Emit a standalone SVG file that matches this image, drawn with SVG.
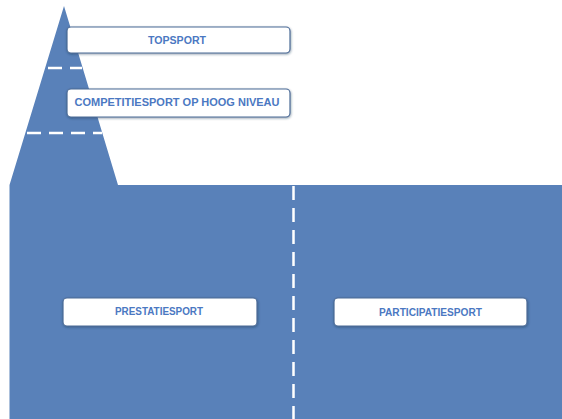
<svg xmlns="http://www.w3.org/2000/svg" width="562" height="419" viewBox="0 0 562 419">
<defs>
<filter id="sh" x="-10%" y="-30%" width="120%" height="170%">
<feDropShadow dx="0.5" dy="1" stdDeviation="0.8" flood-color="#1f3350" flood-opacity="0.45"/>
</filter>
</defs>
<style>
.box{fill:#ffffff;stroke:#4a6a96;stroke-width:1.2;filter:url(#sh)}
.lbl{font-family:"Liberation Sans",Arial,sans-serif;font-weight:bold;font-size:10.5px;fill:#4b78c2;text-anchor:middle;dominant-baseline:central}
.dash{stroke:#ffffff;stroke-width:2.5;stroke-dasharray:14 8;fill:none}
</style>
<g id="shape">
<path d="M64,6 L118,185 L562,185 L562,419 L9.5,419 L9.5,185 Z" fill="#5981b9"/>
</g>
<g id="connectors">
<line class="dash" x1="48" y1="68" x2="82" y2="68"/>
<line class="dash" x1="27" y1="133" x2="102" y2="133"/>
<line class="dash" x1="293.5" y1="186" x2="293.5" y2="419"/>
</g>
<g id="topsport">
<rect class="box" x="67" y="27" width="223" height="26" rx="4"/>
<text class="lbl" x="177" y="40" textLength="58" lengthAdjust="spacingAndGlyphs">TOPSPORT</text>
</g>
<g id="competitiesport">
<rect class="box" x="67" y="89" width="223" height="28" rx="4"/>
<text class="lbl" x="177" y="102" textLength="205" lengthAdjust="spacingAndGlyphs">COMPETITIESPORT OP HOOG NIVEAU</text>
</g>
<g id="prestatiesport">
<rect class="box" x="63" y="298" width="194" height="28" rx="4"/>
<text class="lbl" x="159" y="310.5" textLength="88" lengthAdjust="spacingAndGlyphs">PRESTATIESPORT</text>
</g>
<g id="participatiesport">
<rect class="box" x="334" y="298" width="193" height="28" rx="4"/>
<text class="lbl" x="430.5" y="312" textLength="103" lengthAdjust="spacingAndGlyphs">PARTICIPATIESPORT</text>
</g>
</svg>
